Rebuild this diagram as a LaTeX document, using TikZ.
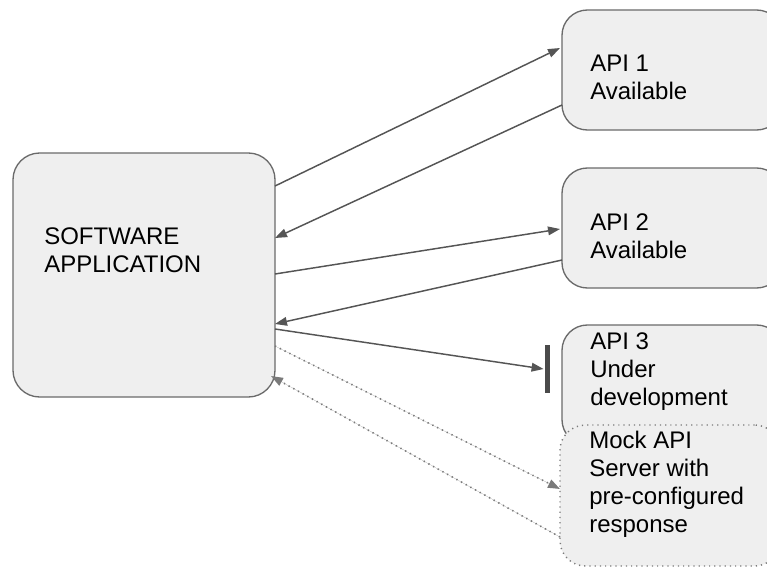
\documentclass[tikz,border=0pt]{standalone}
\usepackage{fontspec}
\setmainfont{Liberation Sans}
\usetikzlibrary{arrows.meta,positioning,calc}
\definecolor{Ink}{HTML}{555555}
\definecolor{Muted}{HTML}{7A7A7A}
\definecolor{BoxFill}{HTML}{EFEFEF}
\definecolor{BoxEdge}{HTML}{6A6A6A}
\definecolor{BarFill}{HTML}{4A4A4A}
\tikzset{
  call/.style={-{Triangle[length=9pt,width=6.5pt]}, draw=Ink, fill=Ink, line width=1.1pt},
  mockcall/.style={call, draw=Muted, fill=Ink, line width=1.2pt, dash pattern=on 1pt off 3pt},
  app/.style={draw=BoxEdge, fill=BoxFill, rounded corners=20pt, line width=1pt,
    inner sep=0pt, outer sep=0pt, minimum width=196.5pt, minimum height=183pt},
  api/.style={draw=BoxEdge, fill=BoxFill, rounded corners=19pt, line width=1pt,
    inner sep=0pt, outer sep=0pt, minimum width=165pt, minimum height=90pt},
  mockapi/.style={api, draw=Muted, line width=1.1pt, dash pattern=on 0.9pt off 3pt,
    minimum height=105.75pt},
  boxtext/.style={anchor=north west, inner sep=0pt, align=left, text=black,
    font=\fontsize{18}{21}\selectfont},
  blocked/.style={fill=BarFill, minimum width=3.75pt, minimum height=36pt, inner sep=0pt},
}

\begin{document}
\begin{tikzpicture}[x=0.75pt, y=-0.75pt]
  \useasboundingbox (0,0) rectangle (767,567);

  % Client box on the left, services stacked on the right.
  \node[app, anchor=north west] (app) at (13,153) {};
  \node[api, anchor=north west] (api1) at (562,10) {};
  \node[api, below=28.5pt of api1] (api2) {};
  \node[api, below=27.75pt of api2] (api3) {};
  \node[mockapi, anchor=north west] (mock) at (560,425) {};

  % Box captions, measured from each box corner.
  \node[boxtext] at ($(app.north west)+(31,74)$) {SOFTWARE\\APPLICATION};
  \node[boxtext] at ($(api1.north west)+(28,45)$) {API 1\\Available};
  \node[boxtext] at ($(api2.north west)+(28,45)$) {API 2\\Available};
  \node[boxtext] at ($(api3.north west)+(28,7)$) {API 3\\Under\\development};
  \node[boxtext] at ($(mock.north west)+(29,6)$) {Mock API\\Server with\\pre-configured\\response};

  % Unfinished service is blocked.
  \node[blocked] (block) at ($(api3.north west)+(-15,44)$) {};

  % Requests and responses.
  \draw[call] ($(app.north east)+(0,33)$) -- ($(api1.north west)+(-2,38)$);
  \draw[call] ($(api1.north west)+(0,95)$) -- ($(app.north east)+(0,85)$);
  \draw[call] ($(app.north east)+(0,121)$) -- ($(api2.north west)+(-2,61)$);
  \draw[call] ($(api2.north west)+(0,92)$) -- ($(app.north east)+(0,171)$);
  \draw[call] ($(app.north east)+(0,176)$) -- ([xshift=-0.5pt]block.west);
  \draw[mockcall] ($(app.north east)+(0,193)$) -- ($(mock.north west)+(0,64)$);
  \draw[mockcall] ($(mock.north west)+(0,112)$) -- ($(app.north east)+(-4,223)$);
\end{tikzpicture}
\end{document}
